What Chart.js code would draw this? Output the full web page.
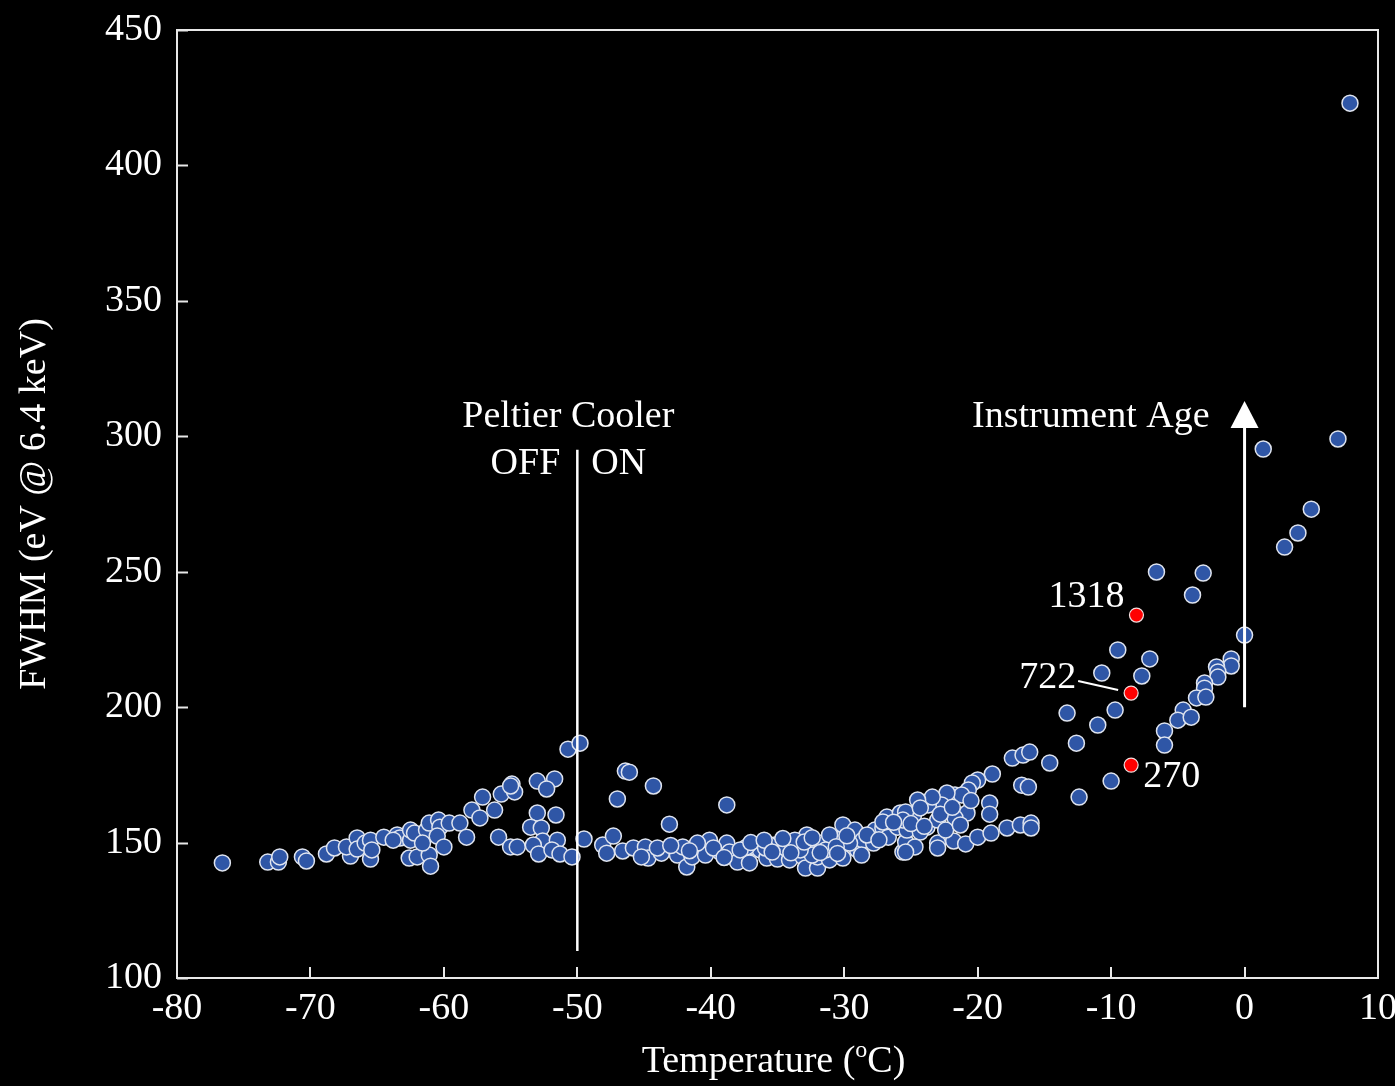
<!DOCTYPE html>
<html>
<head>
<meta charset="utf-8">
<script src="https://cdn.jsdelivr.net/npm/chart.js@4.4.1/dist/chart.umd.min.js"></script>
<style>
  html, body { margin: 0; padding: 0; background: #000; }
  #wrap { width: 1395px; height: 1086px; position: relative; }
</style>
</head>
<body>
<div id="wrap"><canvas id="chart"></canvas></div>
<script>
// Detector temperature (°C) and resolution FWHM at 6.4 keV (eV), one entry per spectrum
const tempC = [
  -76.6,-73.2,-72.4,-72.3,-70.6,-70.3,-68.8,-68.2,-67.0,-67.3,
  -66.5,-66.5,-65.9,-65.5,-65.5,-65.4,-64.5,-63.5,-63.3,-62.5,
  -62.6,-62.0,-62.5,-62.2,-61.1,-61.0,-61.3,-61.1,-60.4,-60.3,
  -60.5,-60.0,-59.6,-58.8,-58.3,-57.9,-57.1,-63.8,-61.6,-56.2,
  -57.3,-55.7,-54.9,-54.7,-55.0,-53.0,-51.7,-52.3,-53.0,-51.6,
  -53.5,-52.7,-55.9,-55.0,-54.5,-52.6,-53.3,-51.5,-52.9,-51.9,
  -51.3,-50.4,-50.7,-49.8,-49.5,-48.1,-47.3,-47.8,-46.6,-47.0,
  -46.4,-46.1,-44.3,-43.1,-38.8,-45.8,-44.9,-44.7,-45.2,-43.7,
  -42.5,-41.8,-41.4,-40.7,-40.4,-40.1,-39.3,-38.8,-38.6,-38.0,
  -37.1,-36.8,-36.3,-35.8,-44.0,-42.1,-41.0,-37.3,-37.8,-35.0,
  -35.2,-34.1,-34.4,-33.5,-33.1,-32.9,-32.8,-32.7,-32.0,-32.0,
  -31.7,-31.1,-30.9,-30.1,-30.2,-30.1,-29.2,-29.0,-28.6,-27.8,
  -27.7,-27.1,-26.8,-26.7,-26.0,-25.8,-25.6,-25.4,-35.6,-32.4,
  -31.1,-28.7,-33.3,-35.9,-29.6,-31.4,-33.7,-17.4,-16.6,-16.1,
  -18.9,-16.7,-16.2,-19.1,-19.1,-20.0,-20.4,-20.7,-21.7,-21.2,
  -22.3,-22.7,-23.7,-23.4,-20.8,-21.7,-24.5,-24.8,-25.4,-23.8,
  -25.3,-24.3,-23.0,-24.7,-25.4,-23.0,-23.0,-21.8,-20.9,-20.0,
  -19.0,-17.8,-16.8,-16.0,-16.0,-14.6,-24.3,-25.6,-27.1,-22.4,
  -21.3,-12.6,-13.3,-12.4,-11.0,-10.7,-10.0,-9.7,-9.5,-7.7,
  -7.1,-6.6,-3.1,-3.9,0.0,-1.0,-1.0,-2.1,-2.0,-2.0,
  -3.0,-3.0,-3.6,-2.9,-4.6,-5.0,-4.0,-6.0,-6.0,1.4,
  7.0,5.0,4.0,3.0,7.9,
  -43.0,-41.6,-39.8,-39.0,-37.0,-36.0,-35.4,-34.6,-34.0,-33.0,
  -32.4,-31.8,-30.6,-30.5,-29.8,-28.3,-27.4,-26.3,-25.0,-24.0,
  -22.8,-21.9,-20.5
];
const fwhmEV = [
  142.5,142.8,142.8,144.7,144.7,143.2,145.8,148.0,145.0,148.4,
  151.7,147.6,149.8,143.9,150.9,147.3,152.0,152.8,151.7,150.9,
  144.3,144.7,154.6,153.5,145.4,141.3,154.6,157.2,158.3,155.7,
  152.4,148.4,157.2,157.2,152.0,162.0,166.8,150.9,149.8,162.0,
  159.1,167.9,171.6,168.7,170.9,172.7,173.5,169.8,160.9,160.2,
  155.7,155.4,152.0,148.4,148.4,150.6,149.1,150.9,145.8,147.3,
  145.8,144.7,184.5,186.7,151.3,149.1,152.4,146.1,146.9,166.1,
  176.4,176.0,170.9,156.8,163.9,148.0,148.4,144.3,144.7,146.1,
  145.4,141.0,144.7,148.4,145.4,150.9,146.5,149.8,146.5,142.8,
  142.5,148.4,147.3,144.3,148.0,148.4,149.8,148.4,147.3,143.9,
  149.1,143.6,148.0,148.4,144.7,140.6,152.8,149.1,140.6,144.7,
  149.8,143.6,152.0,144.3,151.7,156.5,154.6,147.3,150.9,149.8,
  154.6,155.4,159.4,152.0,155.7,160.9,146.5,150.2,149.1,145.4,
  152.8,145.4,147.3,148.0,149.8,147.3,150.9,181.2,182.3,183.4,
  175.3,171.2,170.5,164.6,160.5,173.1,172.0,169.4,167.6,167.6,
  168.3,163.9,163.9,166.8,160.9,159.1,165.7,160.2,161.3,155.7,
  154.6,153.9,158.3,148.4,146.5,149.8,148.0,150.6,149.5,152.0,
  153.5,155.4,156.5,157.2,155.4,179.4,162.8,158.3,157.6,154.6,
  156.5,186.7,197.8,166.8,193.4,212.6,172.7,198.9,221.1,211.5,
  217.8,249.9,249.5,241.4,226.6,217.8,215.2,214.8,213.0,211.1,
  208.9,207.0,203.4,203.7,198.9,195.2,196.3,191.2,186.0,295.3,
  299.0,273.1,264.3,259.1,423.0,
  148.9,147.0,148.0,144.5,150.0,150.9,146.5,151.5,146.2,150.2,
  151.8,146.3,148.5,146.0,152.5,152.8,151.0,157.5,157.0,156.0,
  160.5,163.0,165.5
];

// Highlighted spectra (labelled by spectrum number)
const markedTemp = [-8.1, -8.5, -8.5];
const markedFwhm = [234.0, 205.2, 178.6];
const markedName = ['1318', '722', '270'];

// Axis ranges and tick values
const xTicks = [-80, -70, -60, -50, -40, -30, -20, -10, 0, 10];
const yTicks = [100, 150, 200, 250, 300, 350, 400, 450];

// Cooler switch-over temperature and the age arrow
const coolerTemp = -50;
const coolerSpan = [110, 295];
const ageArrowTemp = 0;
const ageArrowSpan = [200, 313];

const FONT = '"Liberation Serif", "Times New Roman", serif';
const FONT_SIZE = 38;
const INK = '#ffffff';

const blueData = tempC.map((t, i) => ({ x: t, y: fwhmEV[i] }));
const redData = markedTemp.map((t, i) => ({ x: t, y: markedFwhm[i] }));

const decorations = {
  id: 'decorations',
  beforeDraw(chart) {
    const ctx = chart.ctx;
    ctx.save();
    ctx.fillStyle = '#000';
    ctx.fillRect(0, 0, chart.width, chart.height);
    ctx.restore();
  },
  afterDatasetsDraw(chart) {
    const { ctx, chartArea: a, scales: { x, y } } = chart;
    ctx.save();

    // plot frame
    ctx.strokeStyle = '#e8e8e8';
    ctx.lineWidth = 2;
    ctx.strokeRect(a.left, a.top, a.right - a.left, a.bottom - a.top);

    // inward tick marks on the left and bottom axes
    ctx.beginPath();
    yTicks.forEach(v => {
      const py = Math.round(y.getPixelForValue(v)) + 0.5;
      ctx.moveTo(a.left, py);
      ctx.lineTo(a.left + 11, py);
    });
    xTicks.forEach(v => {
      const px = Math.round(x.getPixelForValue(v));
      ctx.moveTo(px, a.bottom);
      ctx.lineTo(px, a.bottom - 11);
    });
    ctx.stroke();

    ctx.fillStyle = INK;
    ctx.strokeStyle = INK;
    ctx.font = `${FONT_SIZE}px ${FONT}`;
    ctx.textBaseline = 'middle';

    // Peltier cooler OFF | ON divider
    const cx = x.getPixelForValue(coolerTemp);
    ctx.lineWidth = 2.5;
    ctx.beginPath();
    ctx.moveTo(cx, y.getPixelForValue(coolerSpan[0]));
    ctx.lineTo(cx, y.getPixelForValue(coolerSpan[1]));
    ctx.stroke();
    const topY = y.getPixelForValue(coolerSpan[1]);
    ctx.textAlign = 'center';
    ctx.fillText('Peltier Cooler', cx - 9, topY - 33);
    ctx.textAlign = 'right';
    ctx.fillText('OFF', cx - 17, topY + 14);
    ctx.textAlign = 'left';
    ctx.fillText('ON', cx + 14, topY + 14);

    // Instrument age arrow
    const ax = x.getPixelForValue(ageArrowTemp);
    const ay0 = y.getPixelForValue(ageArrowSpan[0]);
    const ay1 = y.getPixelForValue(ageArrowSpan[1]);
    ctx.lineWidth = 3;
    ctx.beginPath();
    ctx.moveTo(ax, ay0);
    ctx.lineTo(ax, ay1 + 24);
    ctx.stroke();
    ctx.beginPath();
    ctx.moveTo(ax, ay1);
    ctx.lineTo(ax - 14, ay1 + 27);
    ctx.lineTo(ax + 14, ay1 + 27);
    ctx.closePath();
    ctx.fill();
    ctx.textAlign = 'right';
    ctx.fillText('Instrument Age', ax - 35, ay1 + 16);

    // labels of the highlighted spectra
    const rp = markedTemp.map((t, i) => [x.getPixelForValue(t), y.getPixelForValue(markedFwhm[i])]);
    ctx.textAlign = 'right';
    ctx.fillText(markedName[0], rp[0][0] - 12, rp[0][1] - 18);
    ctx.fillText(markedName[1], rp[1][0] - 55, rp[1][1] - 15);
    ctx.lineWidth = 2;
    ctx.beginPath();
    ctx.moveTo(rp[1][0] - 53, rp[1][1] - 12);
    ctx.lineTo(rp[1][0] - 13, rp[1][1] - 3);
    ctx.stroke();
    ctx.textAlign = 'left';
    ctx.fillText(markedName[2], rp[2][0] + 12, rp[2][1] + 12);

    // axis titles
    ctx.save();
    ctx.translate(35, (a.top + a.bottom) / 2);
    ctx.rotate(-Math.PI / 2);
    ctx.textAlign = 'center';
    ctx.fillText('FWHM (eV @ 6.4 keV)', 0, 0);
    ctx.restore();

    const part1 = 'Temperature (', sup = 'o', part2 = 'C)';
    ctx.font = `${FONT_SIZE}px ${FONT}`;
    const w1 = ctx.measureText(part1).width;
    const w3 = ctx.measureText(part2).width;
    ctx.font = `${Math.round(FONT_SIZE * 0.62)}px ${FONT}`;
    const w2 = ctx.measureText(sup).width;
    const total = w1 + w2 + w3;
    let tx = (a.left + a.right) / 2 - 4 - total / 2;
    const ty = 1062;
    ctx.textAlign = 'left';
    ctx.font = `${FONT_SIZE}px ${FONT}`;
    ctx.fillText(part1, tx, ty);
    tx += w1;
    ctx.font = `${Math.round(FONT_SIZE * 0.62)}px ${FONT}`;
    ctx.fillText(sup, tx, ty - 11);
    tx += w2;
    ctx.font = `${FONT_SIZE}px ${FONT}`;
    ctx.fillText(part2, tx, ty);

    ctx.restore();
  }
};

new Chart(document.getElementById('chart'), {
  type: 'scatter',
  data: {
    datasets: [
      {
        label: 'FWHM',
        data: blueData,
        pointRadius: 8,
        pointBackgroundColor: '#2f56a6',
        pointBorderColor: '#dfe4ef',
        pointBorderWidth: 1.5,
        pointHoverRadius: 8
      },
      {
        label: 'Marked',
        data: redData,
        pointRadius: 7,
        pointBackgroundColor: '#ff0000',
        pointBorderColor: '#f2dede',
        pointBorderWidth: 1.2,
        pointHoverRadius: 7
      }
    ]
  },
  options: {
    responsive: true,
    maintainAspectRatio: false,
    animation: false,
    events: [],
    layout: { padding: { left: 0, top: 30, right: 17, bottom: 0 } },
    plugins: {
      legend: { display: false },
      tooltip: { enabled: false }
    },
    scales: {
      x: {
        type: 'linear',
        min: -80, max: 10,
        afterBuildTicks(s) { s.ticks = xTicks.map(v => ({ value: v })); },
        afterFit(s) { s.height = 108; s.paddingLeft = 0; s.paddingRight = 0; },
        grid: { display: false, drawTicks: false },
        border: { display: false },
        ticks: {
          color: INK,
          padding: 8,
          maxRotation: 0,
          autoSkip: false,
          font: { family: FONT, size: FONT_SIZE }
        }
      },
      y: {
        type: 'linear',
        min: 100, max: 450,
        afterBuildTicks(s) { s.ticks = yTicks.map(v => ({ value: v })); },
        afterFit(s) { s.width = 177; s.paddingTop = 0; s.paddingBottom = 0; },
        grid: { display: false, drawTicks: false },
        border: { display: false },
        ticks: {
          color: INK,
          padding: 15,
          autoSkip: false,
          font: { family: FONT, size: FONT_SIZE }
        }
      }
    }
  },
  plugins: [decorations]
});
</script>
</body>
</html>
